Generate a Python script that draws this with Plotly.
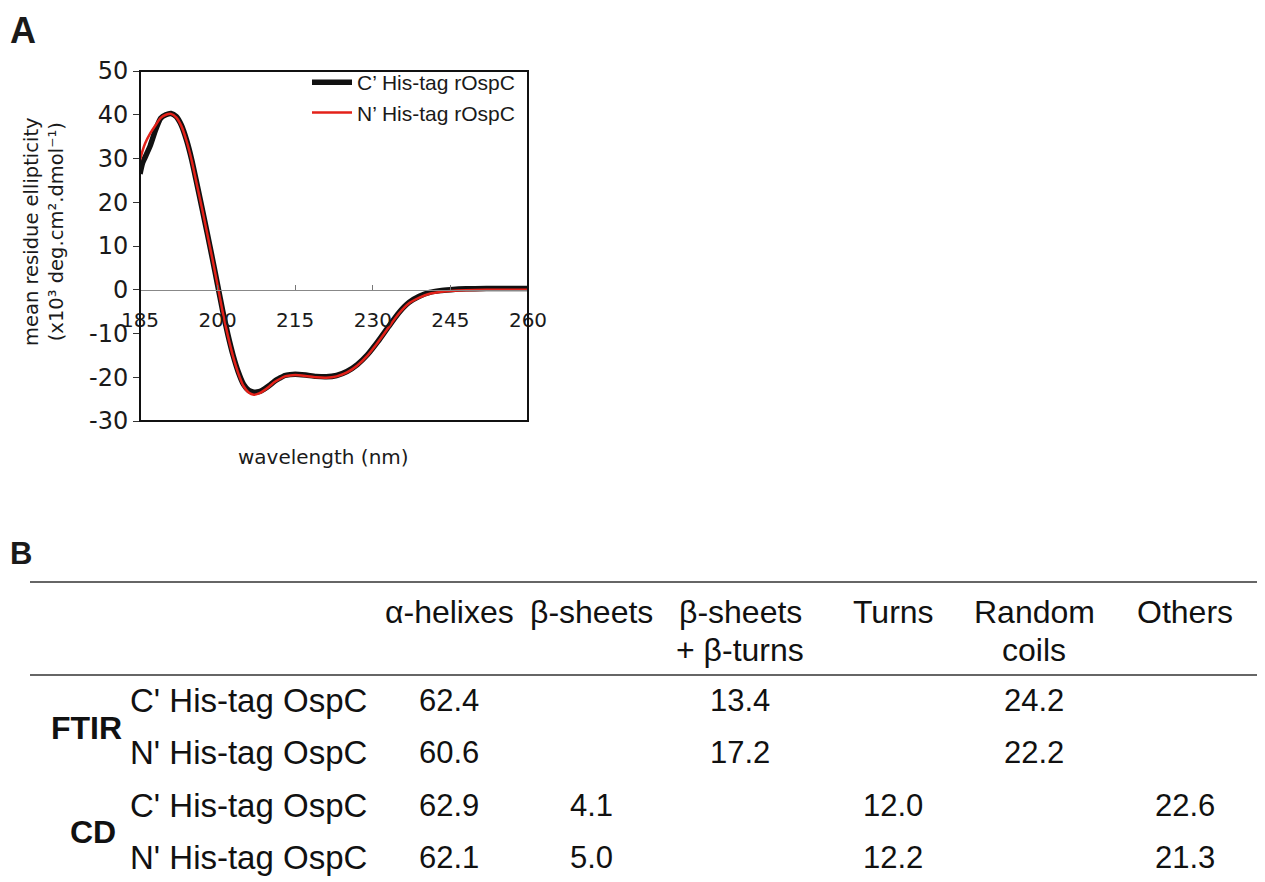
import plotly.graph_objects as go

# ---------------- Panel A data ----------------
wavelength = [185, 185.5, 186, 187, 188, 189, 190, 191, 192, 193, 194, 195, 196, 197, 198, 199,
              200, 201, 202, 203, 204, 205, 206, 207, 208, 209, 210, 211, 212, 213, 214, 215,
              217, 219, 221, 223, 225, 227, 229, 231, 233, 235, 237, 239, 241, 243, 245, 248,
              252, 256, 260]
c_his = [26.5, 29.0, 30.3, 33.0, 36.5, 39.2, 40.0, 40.3, 39.6, 37.6, 34.2, 29.7, 24.2, 18.6, 12.9, 7.1,
         1.1, -4.9, -10.3, -15.0, -18.8, -21.6, -23.0, -23.4, -23.3, -22.7, -21.9, -20.9, -20.2, -19.6, -19.4, -19.3,
         -19.5, -19.8, -19.9, -19.6, -18.7, -17.1, -14.8, -11.8, -8.5, -5.3, -2.9, -1.5, -0.6, -0.2, 0.0, 0.2,
         0.3, 0.3, 0.3]
n_his = [29.6, 31.8, 33.5, 35.8, 37.6, 39.3, 40.0, 40.2, 39.4, 37.4, 34.0, 29.5, 24.0, 18.5, 12.8, 7.0,
         1.0, -5.2, -10.6, -15.3, -19.1, -22.0, -23.5, -24.0, -23.7, -23.0, -22.1, -21.1, -20.4, -19.8, -19.6, -19.5,
         -19.7, -20.0, -20.1, -19.8, -18.9, -17.3, -15.0, -12.0, -8.7, -5.5, -3.1, -1.8, -0.9, -0.5, -0.3, -0.1,
         0.0, 0.0, 0.0]
series_names = ["C\u2019 His-tag rOspC", "N\u2019 His-tag rOspC"]
x_ticks = [185, 200, 215, 230, 245, 260]
y_ticks = [-30, -20, -10, 0, 10, 20, 30, 40, 50]
y_ticktext = ["-30", "-20", "-10", "0", "10", "20", "30", "40", "50"]

# ---------------- Panel B data ----------------
col_headers = [["\u03b1-helixes"], ["\u03b2-sheets"], ["\u03b2-sheets", "+ \u03b2-turns"], ["Turns"],
               ["Random", "coils"], ["Others"]]
methods = ["FTIR", "CD"]
row_labels = ["C' His-tag OspC", "N' His-tag OspC", "C' His-tag OspC", "N' His-tag OspC"]
table_values = [
    ["62.4", "", "13.4", "", "24.2", ""],
    ["60.6", "", "17.2", "", "22.2", ""],
    ["62.9", "4.1", "", "12.0", "", "22.6"],
    ["62.1", "5.0", "", "12.2", "", "21.3"],
]

# figure placed inside the page body (default 8px body margin)
OX, OY = 8, 8
FW, FH = 1249, 874


def px(x):
    return (x - OX) / FW


def py(y):
    return 1 - (y - OY) / FH


L, R, T, B = 140, 528, 71, 421
ymin, ymax = -30, 50
y0_paper = py(B) + (0 - ymin) / (ymax - ymin) * (py(T) - py(B))

fig = go.Figure()
fig.add_trace(go.Scatter(x=wavelength, y=c_his, mode="lines", name=series_names[0],
                         line=dict(color="#111111", width=5.5, shape="spline", smoothing=0.6)))
fig.add_trace(go.Scatter(x=wavelength, y=n_his, mode="lines", name=series_names[1],
                         line=dict(color="#e32119", width=2.5, shape="spline", smoothing=0.6)))

fig.update_layout(
    width=FW, height=FH, autosize=False,
    margin=dict(l=0, r=0, t=0, b=0, autoexpand=False),
    paper_bgcolor="white", plot_bgcolor="white",
    showlegend=True,
    legend=dict(x=px(307), y=py(62), xanchor="left", yanchor="top",
                bgcolor="rgba(0,0,0,0)", borderwidth=0,
                font=dict(family="Liberation Sans, Arial", size=21, color="#1a1a1a"),
                tracegroupgap=0, itemwidth=40),
    xaxis=dict(domain=[px(L), px(R)], range=[185, 260], anchor="free", position=y0_paper,
               tickvals=x_ticks, ticks="inside", ticklen=5, tickcolor="#777777", tickwidth=1,
               showline=True, linecolor="#888888", linewidth=1, showgrid=False, zeroline=False,
               automargin=False,
               tickfont=dict(family="DejaVu Sans", size=20, color="#1a1a1a"), ticklabelstandoff=12),
    yaxis=dict(domain=[py(B), py(T)], range=[ymin, ymax], tickvals=y_ticks, ticktext=y_ticktext,
               ticks="outside", ticklen=6, tickcolor="#333333", tickwidth=1,
               showline=False, showgrid=False, zeroline=False, automargin=False,
               tickfont=dict(family="DejaVu Sans", size=24, color="#1a1a1a"), ticklabelstandoff=0),
)

shapes = []
shapes.append(dict(type="rect", xref="x domain", yref="y domain", x0=0, x1=1, y0=0, y1=1,
                   line=dict(color="#111111", width=2), fillcolor="rgba(0,0,0,0)", layer="above"))
for yy in (582, 675):
    shapes.append(dict(type="line", xref="paper", yref="paper", x0=px(30), x1=1, y0=py(yy), y1=py(yy),
                       line=dict(color="#333333", width=1.5)))
fig.update_layout(shapes=shapes)

ann = []
ann.append(dict(text="<b>A</b>", x=0, y=1, xref="paper", yref="paper", xanchor="left", yanchor="top",
                showarrow=False, font=dict(family="Liberation Sans, Arial", size=36, color="#1a1a1a")))
ann.append(dict(text="<b>B</b>", x=0, y=py(553), xref="paper", yref="paper", xanchor="left", yanchor="middle",
                showarrow=False, font=dict(family="Liberation Sans, Arial", size=31, color="#1a1a1a")))
ann.append(dict(text="mean residue ellipticity<br>(x10\u00b3 deg.cm\u00b2.dmol\u207b\u00b9)", textangle=-90,
                x=px(44), y=py(232), xref="paper", yref="paper", xanchor="center", yanchor="middle",
                showarrow=False, font=dict(family="DejaVu Sans", size=19.5, color="#1a1a1a")))
ann.append(dict(text="wavelength (nm)", x=px(323), y=py(457), xref="paper", yref="paper",
                xanchor="center", yanchor="middle", showarrow=False,
                font=dict(family="DejaVu Sans", size=20, color="#1a1a1a")))

tfont = dict(family="Liberation Sans, Arial", size=32, color="#111111")
col_x = [449, 591, 740, 893, 1034, 1185]
head_y = [612, 650]
for cx, lines in zip(col_x, col_headers):
    for hy, h in zip(head_y, lines):
        ann.append(dict(text=h, x=px(cx), y=py(hy), xref="paper", yref="paper", xanchor="center",
                        yanchor="middle", showarrow=False, font=tfont))
row_y = [700, 752, 805, 857]
for ry, lab, vals in zip(row_y, row_labels, table_values):
    ann.append(dict(text=lab, x=px(128), y=py(ry), xref="paper", yref="paper", xanchor="left", yanchor="middle",
                    showarrow=False, font=dict(family="Liberation Sans, Arial", size=33, color="#111111")))
    for cx, v in zip(col_x, vals):
        if v:
            ann.append(dict(text=v, x=px(cx), y=py(ry), xref="paper", yref="paper", xanchor="center",
                            yanchor="middle", showarrow=False,
                            font=dict(family="Liberation Sans, Arial", size=31, color="#111111")))
for m, my, mx in zip(methods, [728, 832], [86, 93]):
    ann.append(dict(text="<b>" + m + "</b>", x=px(mx), y=py(my), xref="paper", yref="paper", xanchor="center",
                    yanchor="middle", showarrow=False,
                    font=dict(family="Liberation Sans, Arial", size=32, color="#111111")))
fig.update_layout(annotations=ann)

fig.write_html("out.html")
